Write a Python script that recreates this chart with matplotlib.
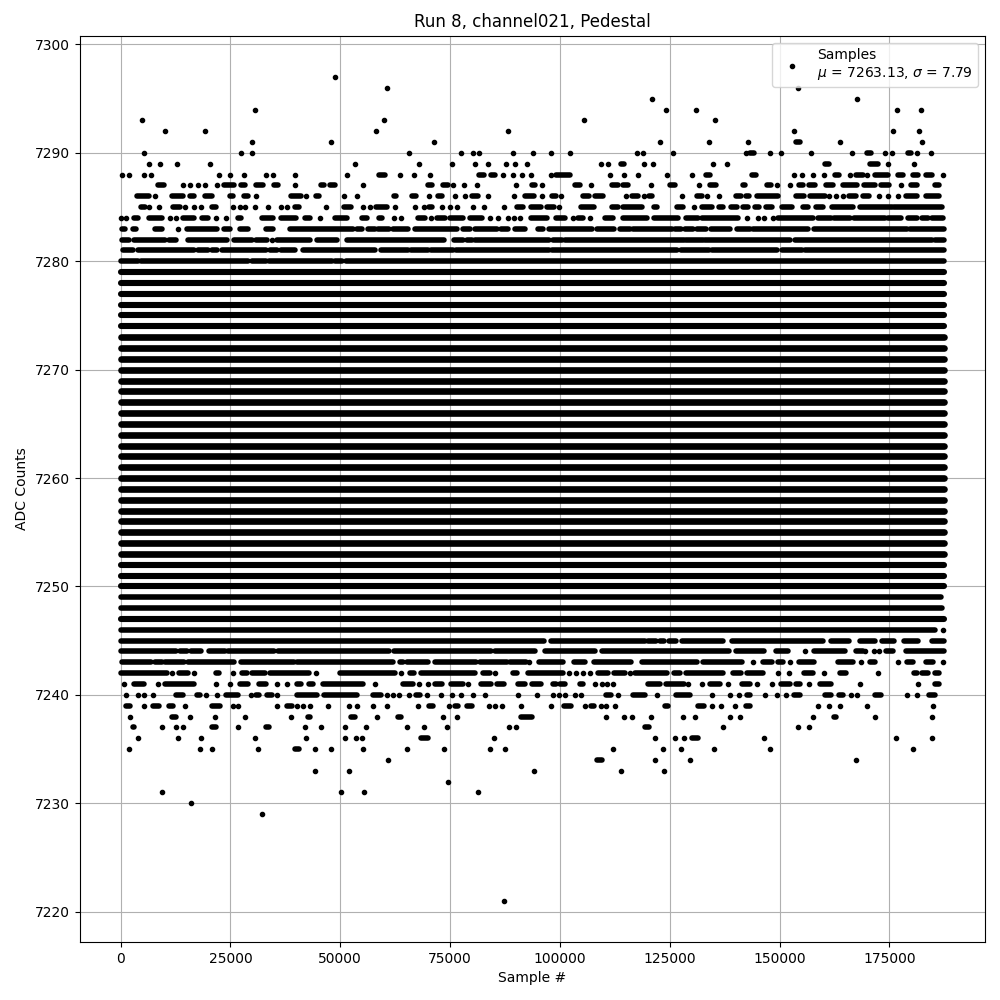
import matplotlib
matplotlib.use("Agg")
import matplotlib.pyplot as plt

# Sample numbers in thousands, read per ADC level.
# A plain number is one visible sample; a tuple is an unbroken run of samples (first, last).
adc_7221 = [87.2]
adc_7229 = [32.1]
adc_7230 = [15.9]
adc_7231 = [9.5, 50.1, 55.3, 81.3]
adc_7232 = [74.5]
adc_7233 = [44.2, 51.9, 94.0, 113.9, 123.7]
adc_7234 = [60.8, (108.4, 109.6), 121.7, 129.6, 167.5]
adc_7235 = [2.0, 18.0, 20.9, 31.2, (39.8, 40.7), 44.2, 47.8, 55.1, 65.1, 73.6, 84.1, 87.5,
            112.1, 123.5, 127.6, 135.1, 147.9, 180.3]
adc_7236 = [4.0, 13.1, 18.4, 30.5, 42.1, 51.0, 53.5, 54.9, (68.3, 69.9), 85.0,
            121.7, 126.2, 128.3, (130.1, 131.5), 146.5, 176.6, 184.8]
adc_7237 = [(2.7, 3.1), 9.3, 12.5, 14.3, (20.7, 21.6), 26.6, (33.2, 33.7), 41.9, 45.5, 51.0, 55.8,
            65.1, 69.0, 74.3, 88.4, 90.0, (119.4, 120.3), 137.2, 154.3, 156.8]
adc_7238 = [2.2, (11.6, 12.7), 15.7, 21.4, 28.2, 38.7, (42.6, 43.0), (52.4, 53.3), 58.3, (63.1, 63.8),
            73.3, 76.5, (91.1, 93.6), 110.5, 114.6, 116.4, 120.7, 128.0, 130.8, 138.8, 141.0, 157.5,
            (162.5, 162.9), 171.8, 184.6]
adc_7239 = [(1.3, 2.2), 5.2, (7.4, 8.8), (11.1, 12.0), 14.7, (20.9, 22.7), 25.5, 26.8, 35.5, (37.8, 38.9),
            40.1, 41.6, 43.2, 47.3, 51.9, 53.7, 57.4, 60.6, 67.6, (70.1, 71.0), 74.7, (76.1, 76.8),
            (78.8, 80.0), 83.8, 85.2, 86.8, 91.1, 98.0, (101.0, 102.5), 105.7, (107.0, 107.7), 109.3,
            110.5, 112.5, (123.9, 124.6), (131.5, 132.8), 134.7, 136.7, 139.9, (142.4, 143.3), 158.8,
            161.3, 163.8, 170.0, 185.0]
adc_7240 = [1.3, 4.0, 5.4, 7.4, (12.5, 14.3), (17.3, 18.0), 19.5, 22.0, (24.0, 26.8), 29.6, (30.9, 31.6),
            (33.4, 34.4), 35.5, (40.1, 44.6), (46.2, 53.7), (57.4, 59.2), 60.6, 62.0, 63.3, 65.6,
            (67.2, 68.1), 69.7, 72.9, 75.4, 77.4, 80.2, 82.9, 90.4, 94.8, 98.4, 99.8, 101.1, 103.4, 104.8,
            (110.5, 111.6), 113.2, (116.6, 119.4), 122.1, (126.4, 129.6), 134.7, 138.8, 140.8, (142.6, 143.3),
            146.7, 149.5, 151.5, (153.3, 154.7), (160.4, 161.8), (163.6, 164.5), 166.3, 167.7, (171.8, 173.0),
            178.9, 181.4, (184.1, 185.3)]
adc_7241 = [0.8, (3.1, 5.2), 8.6, (10.2, 16.6), 21.6, 25.0, (27.1, 29.1), (31.4, 33.0), 35.5, 37.8,
            (40.1, 41.0), (42.8, 43.7), (46.0, 55.1), 57.8, (64.2, 66.5), 67.9, 69.9, (71.5, 73.1),
            (75.2, 77.9), 79.0, (82.0, 84.3), (85.7, 87.2), (90.4, 92.0), (93.6, 95.7), (98.4, 99.1),
            (100.0, 101.1), (104.6, 105.2), 108.0, 109.6, 110.7, 112.1, (120.0, 122.8), (124.2, 128.3), 129.2,
            132.4, (134.2, 136.5), 138.3, (141.5, 143.3), 144.9, 148.3, (150.4, 152.4), (153.8, 154.7), 156.8,
            (159.3, 161.6), 168.4, 181.6, (185.5, 186.4)]
adc_7242 = [(0.1, 10.6), 11.6, (13.2, 15.4), 16.8, (21.6, 22.5), 25.5, (27.7, 28.7), (29.8, 32.8),
            (33.9, 42.8), 44.4, (49.9, 62.4), 63.8, (65.8, 66.7), (68.3, 80.6), (82.5, 84.1), 85.2,
            (89.3, 90.2), (92.7, 100.7), 102.0, 103.6, 105.2, 106.8, (108.7, 111.0), (112.3, 114.8), 116.0,
            (117.1, 124.4), (126.0, 127.4), (128.7, 137.2), (139.4, 141.3), (142.6, 146.3), 149.7, 152.2,
            (155.6, 157.7), 160.2, (163.8, 165.2), 172.3, (180.5, 181.2), (182.5, 183.9), (185.5, 186.4)]
adc_7243 = [(0.3, 7.0), (7.9, 9.3), (10.2, 14.5), (15.4, 25.9), (27.5, 39.4), (40.1, 62.0), (63.5, 64.2),
            (65.1, 69.9), (71.5, 80.9), (81.8, 88.0), (88.6, 92.3), 93.0, (95.2, 100.7), (103.2, 105.7),
            (107.7, 116.2), (118.7, 131.2), (132.6, 141.5), 144.0, (146.3, 148.3), (149.7, 150.8), 152.4,
            (154.5, 157.9), (163.2, 166.8), 168.6, (170.7, 171.8), 177.0, (179.1, 180.3), (183.4, 185.0), 187.1]
adc_7244 = [(0.1, 12.5), (13.4, 15.0), (15.9, 18.2), (20.1, 23.8), (24.5, 35.0), (35.9, 61.0), (62.2, 84.3),
            (85.2, 94.3), (96.6, 108.0), (109.6, 138.5), (140.1, 146.5), (149.2, 152.0), 155.9, (157.9, 165.0),
            (167.3, 169.1), 169.5, 171.4, 172.7, (174.3, 175.9), (178.7, 187.4)]
adc_7245 = [(0.0, 96.3), (98.0, 119.3), (120.0, 121.9), (122.7, 123.7), (124.8, 126.5), (127.8, 137.2),
            (139.2, 159.8), (161.6, 165.7), (168.2, 171.8), (173.4, 176.1), (178.4, 181.6), (184.6, 187.4)]
adc_7246 = [(0.0, 185.5), 187.1]
adc_7249 = [(0.0, 186.7)]
adc_7248 = [(0.0, 187.0)]

adc_7280 = [(0.0, 4.0), (4.7, 29.1), (29.8, 33.0), (33.7, 48.0), (48.7, 50.3), (51.2, 187.4)]
adc_7281 = [(0.6, 2.9), (4.0, 16.8), (17.5, 19.8), (20.7, 22.0), (23.0, 33.0), (33.9, 35.7), (36.4, 39.8),
            (41.6, 58.0), (59.2, 65.4), (66.0, 69.9), (70.6, 75.6), (76.3, 97.4), (98.2, 126.7), (127.6, 134.0),
            (134.7, 149.5), (150.6, 155.2), (155.9, 187.4)]
adc_7282 = [(0.4, 1.9), (3.0, 10.2), (10.9, 12.7), (15.4, 24.3), (25.7, 29.8), (30.7, 33.4), 34.4, (35.7, 43.0),
            (44.6, 49.2), (51.5, 73.6), (75.9, 77.9), (78.8, 80.0), (80.6, 97.6), (98.4, 100.4), (101.1, 128.3),
            (128.7, 132.6), (133.0, 152.4), (153.6, 184.8), (185.3, 187.4)]
adc_7283 = [(0.4, 1.0), (2.7, 3.6), (7.9, 9.5), 13.1, (15.2, 22.0), (23.6, 25.0), (27.1, 29.1), (33.2, 34.6),
            (38.5, 52.8), (53.7, 54.9), (56.4, 57.8), (58.5, 61.2), (62.0, 65.4), (67.0, 76.5), (78.0, 79.5),
            (80.6, 85.7), (86.6, 88.2), (89.8, 92.0), (95.0, 96.1), (97.5, 107.3), (108.4, 112.3), (113.7, 116.0),
            (116.6, 125.5), (126.2, 127.6), (128.5, 130.3), (131.2, 133.3), (134.4, 138.8), (140.4, 143.3),
            (144.0, 156.5), (157.9, 179.0), (179.6, 187.4)]
adc_7284 = [0.0, 1.3, (3.1, 4.0), (6.5, 9.5), 11.3, 12.7, (14.1, 16.8), (18.6, 19.8), 21.8, 23.9, (26.8, 27.5),
            (32.1, 34.6), (36.4, 39.9), (41.9, 43.2), 45.3, (48.7, 51.5), (54.9, 56.0), (58.7, 59.4), 62.2, 63.8,
            (67.6, 69.2), 70.6, (72.0, 73.8), (74.9, 77.9), (79.5, 82.2), 84.1, 85.9, 88.2, 89.5, 90.9, (93.4, 97.0),
            (99.1, 101.1), 103.0, (104.1, 105.2), 106.8, (110.3, 112.1), (114.4, 119.8), (121.4, 126.9),
            (128.7, 131.5), (132.4, 140.6), 142.6, 145.1, 146.5, 148.6, (149.7, 157.7), (158.8, 161.6),
            (162.5, 166.1), (167.0, 174.1), (174.8, 177.7), (179.3, 181.4), (182.5, 183.9), (184.8, 187.1)]
adc_7285 = [(4.7, 5.6), 6.5, 8.7, (12.0, 13.4), 14.7, 16.6, 18.4, (20.7, 21.6), 25.5, 27.1, 28.4, 30.5, 33.6, 36.4,
            37.8, (39.6, 40.5), 46.7, (50.8, 52.4), 55.1, 56.7, (58.1, 60.6), 62.4, 67.0, 69.0, (70.1, 70.8), 73.1,
            74.9, 76.5, 80.2, 82.7, 87.2, (90.2, 91.6), (93.4, 95.7), (97.0, 98.6), 99.8, (104.8, 107.7),
            (111.9, 113.2), (114.4, 118.7), (121.4, 122.1), (126.7, 128.0), 130.5, (132.4, 134.7), (136.2, 137.2),
            (139.0, 140.4), (141.7, 142.9), (144.5, 145.4), (147.0, 148.3), (150.6, 152.9), (155.4, 156.5),
            (158.4, 160.0), (162.0, 166.8), (168.4, 175.5), (176.1, 186.9)]
adc_7286 = [(3.8, 6.5), 7.9, (11.8, 14.1), (15.7, 16.8), (19.3, 20.7), (24.8, 25.5), (28.0, 29.1), 30.7, (38.7, 41.0),
            42.1, (44.4, 45.1), 50.8, 53.7, (62.2, 62.7), (66.3, 67.3), 70.1, (72.2, 73.1), 76.1, 78.4, (80.0, 81.3),
            83.6, 89.5, (92.0, 94.0), 95.9, (98.2, 99.1), 100.2, (105.2, 106.6), (108.0, 109.8), 115.0,
            (116.4, 117.8), 119.1, (120.3, 121.0), 127.8, (131.2, 132.4), 133.5, 136.2, (140.1, 141.3),
            (142.4, 143.1), (144.9, 149.7), (153.8, 155.6), (157.0, 160.4), 161.3, 162.9, 164.5, (165.9, 167.3),
            (169.1, 170.4), 172.7, 174.6, 177.0, (178.7, 181.2), (183.4, 186.2)]
adc_7287 = [(8.6, 9.9), 14.3, 15.7, 17.7, 19.1, 22.0, (23.6, 25.7), (27.5, 28.4), (30.9, 32.3), (35.0, 35.8), 39.6,
            (45.5, 46.2), (47.6, 48.7), 55.1, (69.9, 70.8), (73.3, 74.5), 75.6, 78.1, 81.1, 90.0, (93.6, 94.3), 95.9,
            (103.4, 104.6), 107.1, (111.9, 113.2), (114.4, 115.5), 120.7, (125.1, 126.2), 131.7, (134.2, 135.6),
            (141.7, 142.2), (147.2, 148.1), 149.5, 152.4, (154.5, 155.4), (156.8, 158.1), (160.6, 162.2),
            (164.5, 167.7), (169.3, 171.8), (173.0, 175.0), 177.7, (180.0, 181.4), (185.5, 186.4)]
adc_7288 = [0.2, 2.0, 5.4, 7.0, 22.3, 24.8, 28.0, 33.0, 34.6, 39.6, 51.5, (58.7, 60.1), 63.5, 66.7, 70.4, (81.5, 82.8),
            (84.4, 85.3), 87.0, 89.3, 91.3, 93.4, 98.0, (99.1, 102.3), 111.4, 114.6, 117.8, 124.4, 130.1, (133.3, 134.2),
            (143.8, 144.7), 153.3, 155.0, 157.7, 160.2, (162.7, 163.6), 166.1, (167.5, 168.9), 170.0, (171.8, 174.6),
            (177.0, 178.2), (180.3, 181.6), (183.4, 184.6), 187.3]
adc_7289 = [6.5, 9.0, 12.9, 20.4, 53.3, 67.9, 75.5, 80.6, 83.6, 87.7, 89.8, 92.5, 109.3, 110.9, (113.9, 114.6), 119.1,
            121.2, 134.9, 138.1, (160.4, 161.3), (170.7, 172.5), 174.8, 180.5]
adc_7290 = [5.4, 27.5, 29.8, 65.6, 77.4, 80.3, 81.5, 89.3, 93.8, 98.0, 102.3, 117.6, 118.9, 125.8, 142.4, (143.3, 144.2),
            147.9, 150.4, 157.2, 166.6, (170.0, 170.9), 173.9, 175.7, (179.3, 180.0), 181.2, 184.4]
adc_7291 = [29.8, 47.8, 71.3, 122.8, 134.0, 142.9, (153.8, 154.7), 163.8, 182.5]
adc_7292 = [10.0, 19.3, 58.1, 88.2, 153.3, 175.9, 181.8]
adc_7293 = [4.9, 59.9, 105.5, 135.3]
adc_7294 = [30.5, 124.2, 131.0, 176.8, 182.1]
adc_7295 = [121.0, 167.7]
adc_7296 = [60.6, 154.3]
adc_7297 = [48.7]

# Levels 7250-7279 and 7247 read as unbroken bands across the whole capture.
dense_levels = [7247] + list(range(7250, 7280))
heavy_levels = list(range(7253, 7274))
dense_first = 0.0
dense_last = 187.4

sparse_levels = [7221, 7229, 7230, 7231, 7232, 7233, 7234, 7235, 7236, 7237, 7238, 7239, 7240, 7241, 7242,
                 7243, 7244, 7245, 7246, 7248, 7249, 7280, 7281, 7282, 7283, 7284, 7285, 7286, 7287, 7288,
                 7289, 7290, 7291, 7292, 7293, 7294, 7295, 7296, 7297]
sparse_rows = [adc_7221, adc_7229, adc_7230, adc_7231, adc_7232, adc_7233, adc_7234, adc_7235, adc_7236,
               adc_7237, adc_7238, adc_7239, adc_7240, adc_7241, adc_7242, adc_7243, adc_7244, adc_7245,
               adc_7246, adc_7248, adc_7249, adc_7280, adc_7281, adc_7282, adc_7283, adc_7284, adc_7285,
               adc_7286, adc_7287, adc_7288, adc_7289, adc_7290, adc_7291, adc_7292, adc_7293, adc_7294,
               adc_7295, adc_7296, adc_7297]

title = "Run 8, channel021, Pedestal"
x_label = "Sample #"
y_label = "ADC Counts"
legend_label = "Samples\n$\\mu$ = 7263.13, $\\sigma$ = 7.79"

point_x, point_y = [], []
run_y, run_start, run_end, run_width = [], [], [], []
for level, row in zip(sparse_levels, sparse_rows):
    for item in row:
        if isinstance(item, tuple):
            run_y.append(level)
            run_start.append(item[0] * 1000)
            run_end.append(item[1] * 1000)
            run_width.append(4.0)
        else:
            point_x.append(item * 1000)
            point_y.append(level)
for level in dense_levels:
    run_y.append(level)
    run_start.append(dense_first * 1000)
    run_end.append(dense_last * 1000)
    run_width.append(4.8 if level in heavy_levels else 4.4)

fig, ax = plt.subplots(figsize=(10, 10), dpi=100)
ax.plot(point_x, point_y, "k.", label=legend_label)
ax.hlines(run_y, run_start, run_end, colors="k", linewidth=run_width, capstyle="round", zorder=2)
ax.set_title(title)
ax.set_xlabel(x_label)
ax.set_ylabel(y_label)
ax.grid(True)
ax.legend(loc="upper right")
fig.subplots_adjust(left=0.0795, right=0.985, top=0.9642, bottom=0.058)
fig.savefig("out.png", dpi=100)
